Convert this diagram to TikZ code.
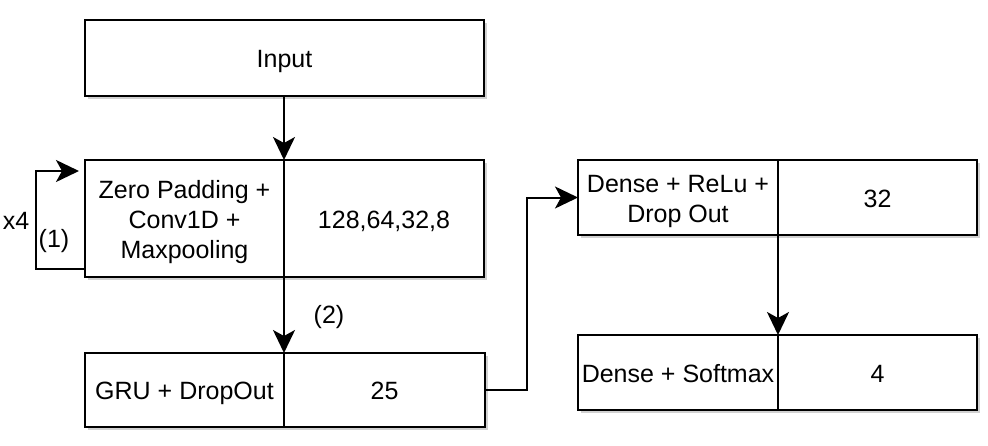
\documentclass[tikz,border=0pt]{standalone}
\usepackage{fontspec}
\setmainfont{Liberation Sans}
\usetikzlibrary{arrows.meta,shadows}
\newcommand\tline[1]{\rule[-5.3pt]{0pt}{30pt}#1}
\begin{document}
\begin{tikzpicture}[x=1pt,y=-1pt,
  box/.style={draw=black, line width=2pt, fill=white, inner sep=0pt, outer sep=0pt,
    align=center, font=\fontsize{25}{30}\selectfont,
    drop shadow={shadow xshift=2.5pt, shadow yshift=-2.5pt, fill=black, opacity=0.18}},
  arr/.style={draw=black, line width=2pt, -{Stealth[length=23pt,width=22pt,inset=6pt]}},
  lbl/.style={font=\fontsize{25}{30}\selectfont, inner sep=0pt}]
\useasboundingbox (0,0) rectangle (988,445);
\node[box, minimum width=399pt, minimum height=76pt] (input) at (284.5,58) {\tline{Input}};
\node[box, minimum width=199pt, minimum height=117pt] (convL) at (184.5,218.5) {\tline{Zero Padding +}\\\tline{Conv1D +}\\\tline{Maxpooling}};
\node[box, minimum width=200pt, minimum height=117pt] (convR) at (384,218.5) {\tline{128,64,32,8}};
\node[box, minimum width=199pt, minimum height=74pt] (gruL) at (184.5,390) {\tline{GRU + DropOut}};
\node[box, minimum width=201pt, minimum height=74pt] (gruR) at (384.5,390) {\tline{25}};
\node[box, minimum width=200pt, minimum height=75pt] (reluL) at (678,197.5) {\tline{Dense + ReLu +}\\\tline{Drop Out}};
\node[box, minimum width=199pt, minimum height=75pt] (reluR) at (877.5,197.5) {\tline{32}};
\node[box, minimum width=200pt, minimum height=75pt] (softL) at (678,372.5) {\tline{Dense + Softmax}};
\node[box, minimum width=199pt, minimum height=75pt] (softR) at (877.5,372.5) {\tline{4}};
\node[lbl] (x4) at (16,221) {x4};
\node[lbl] (l1) at (54,241) {(1)};
\node[lbl] (l2) at (329,317) {(2)};
\draw[arr] (convL.north east |- input.south) -- (convL.north east);
\draw[arr] (convL.south east) -- (gruL.north east);
\draw[arr] ([yshift=8pt]convL.south west) -- ++(-49,0) |- ([xshift=-6pt,yshift=-11pt]convL.north west);
\draw[arr] (gruR.east) -- ++(42,0) |- (reluL.west);
\draw[arr] (reluL.south east) -- (softL.north east);
\end{tikzpicture}
\end{document}
